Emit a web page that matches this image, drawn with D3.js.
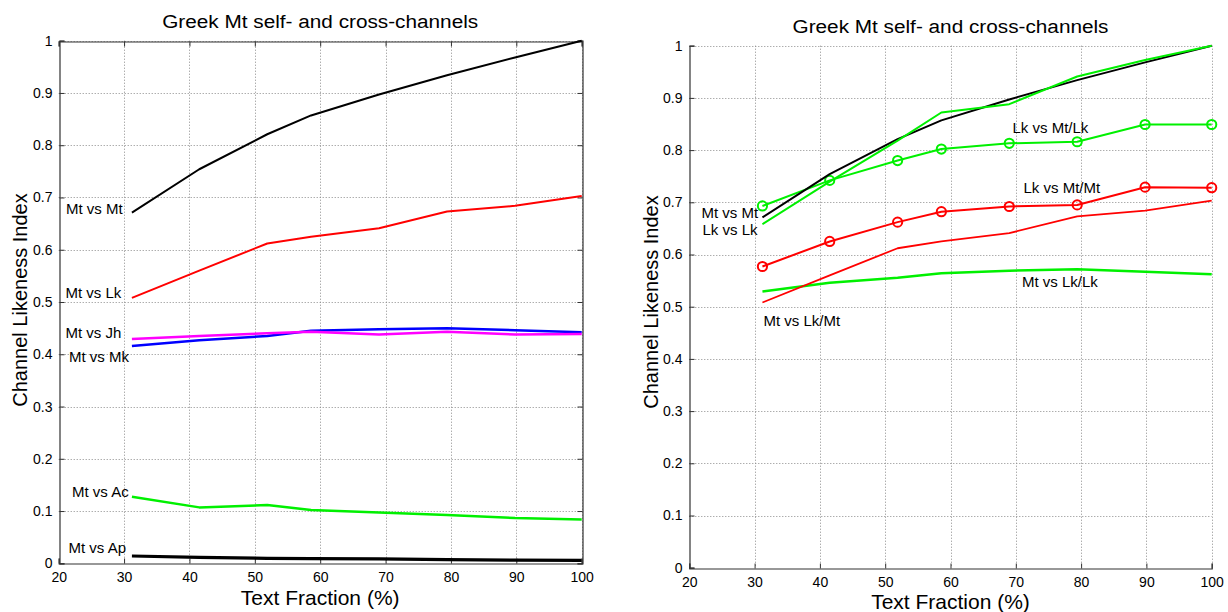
<!DOCTYPE html>
<html>
<head>
<meta charset="utf-8">
<script src="https://cdn.jsdelivr.net/npm/d3@7"></script>
<style>
  html, body { margin: 0; padding: 0; background: #fff; }
  svg { display: block; font-family: Arial, "Liberation Sans", sans-serif; }
</style>
</head>
<body>
<svg id="fig" width="1228" height="612"></svg>
<script>
// Text fraction (%) at which each channel comparison was evaluated
const textFraction = [31.2, 41.5, 51.9, 58.6, 69.0, 79.4, 89.8, 100];

// Left panel: Mt against each gospel / text
const mtVsMt = [0.671, 0.754, 0.821, 0.857, 0.897, 0.934, 0.968, 1.0];
const mtVsLk = [0.508, 0.560, 0.612, 0.625, 0.641, 0.673, 0.684, 0.703];
const mtVsJh = [0.429, 0.435, 0.440, 0.443, 0.438, 0.443, 0.438, 0.439];
const mtVsMk = [0.416, 0.427, 0.435, 0.445, 0.448, 0.450, 0.446, 0.442];
const mtVsAc = [0.1275, 0.107, 0.1115, 0.102, 0.097, 0.0925, 0.0867, 0.084];
const mtVsAp = [0.014, 0.0115, 0.0095, 0.009, 0.0085, 0.007, 0.006, 0.0055];

// Right panel: self-channels and mixed cross-channels of Mt and Lk
const lkVsLk   = [0.658, 0.7395, 0.818, 0.872, 0.888, 0.941, 0.9726, 1.0];
const lkVsMtLk = [0.693, 0.742, 0.780, 0.802, 0.813, 0.816, 0.849, 0.849];
const lkVsMtMt = [0.577, 0.625, 0.662, 0.682, 0.692, 0.695, 0.729, 0.728];
const mtVsLkMt = [0.508, 0.560, 0.612, 0.625, 0.641, 0.673, 0.684, 0.703];
const mtVsLkLk = [0.529, 0.546, 0.5556, 0.564, 0.569, 0.5716, 0.567, 0.562];

const xTicks = [20, 30, 40, 50, 60, 70, 80, 90, 100];
const yTicks = [0, 0.1, 0.2, 0.3, 0.4, 0.5, 0.6, 0.7, 0.8, 0.9, 1];

const titleText = "Greek Mt self- and cross-channels";
const xLabel = "Text Fraction (%)";
const yLabel = "Channel Likeness Index";

const GREEN = "#00f000", RED = "#ff0000", BLUE = "#0000ff", MAGENTA = "#ff00ff", BLACK = "#000000";

const svg = d3.select("#fig");

function panel(opt) {
  const x = d3.scaleLinear().domain([20, 100]).range([opt.left, opt.right]);
  const y = d3.scaleLinear().domain([0, 1]).range([opt.bottom, opt.top]);
  const g = svg.append("g");

  // dotted grid
  const grid = g.append("g").attr("stroke", "#8a8a8a").attr("stroke-width", 1)
    .attr("stroke-dasharray", "1,2").attr("fill", "none");
  grid.selectAll("line.vx").data(xTicks.slice(1)).join("line")
    .attr("x1", d => Math.round(x(d)) + 0.5).attr("x2", d => Math.round(x(d)) + 0.5)
    .attr("y1", y(1)).attr("y2", y(0));
  grid.selectAll("line.hy").data(yTicks.slice(1)).join("line")
    .attr("y1", d => Math.round(y(d)) + 0.5).attr("y2", d => Math.round(y(d)) + 0.5)
    .attr("x1", x(20)).attr("x2", x(100));

  // axes with inward ticks
  const xAxis = d3.axisBottom(x).tickValues(xTicks).tickSize(-5).tickPadding(9).tickFormat(d3.format("d"));
  const yAxis = d3.axisLeft(y).tickValues(yTicks).tickSize(-5).tickPadding(7).tickFormat(d => d === 0 ? "0" : d === 1 ? "1" : d3.format(".1f")(d));
  const gx = g.append("g").attr("transform", `translate(0,${Math.round(y(0)) + 0.5})`).call(xAxis);
  const gy = g.append("g").attr("transform", `translate(${Math.round(x(20)) + 0.5},0)`).call(yAxis);
  [gx, gy].forEach(a => {
    a.select(".domain").attr("stroke", "#333").attr("stroke-width", 1.2);
    a.selectAll(".tick line").attr("stroke", "#333");
    a.selectAll(".tick text").attr("fill", "#000").style("font-size", "14px").style("font-family", "Arial, 'Liberation Sans', sans-serif");
  });
  if (opt.box) {
    const gt = g.append("g").attr("transform", `translate(0,${Math.round(y(1)) + 0.5})`)
      .call(d3.axisTop(x).tickValues(xTicks).tickSize(-5).tickFormat(""));
    const gr = g.append("g").attr("transform", `translate(${Math.round(x(100)) + 0.5},0)`)
      .call(d3.axisRight(y).tickValues(yTicks).tickSize(-5).tickFormat(""));
    [gt, gr].forEach(a => {
      a.select(".domain").attr("stroke", "#333").attr("stroke-width", 1.2);
      a.selectAll(".tick line").attr("stroke", "#333");
    });
  }

  // title and axis labels
  g.append("text").attr("x", (opt.left + opt.right) / 2).attr("y", opt.titleY)
    .attr("text-anchor", "middle").style("font-size", "18px")
    .attr("textLength", 316).attr("lengthAdjust", "spacingAndGlyphs").text(titleText);
  g.append("text").attr("x", (opt.left + opt.right) / 2).attr("y", opt.xLabelY)
    .attr("text-anchor", "middle").style("font-size", "21px").text(xLabel);
  g.append("text").attr("transform", `translate(${opt.yLabelX},${opt.yLabelCy}) rotate(-90)`)
    .attr("text-anchor", "middle").style("font-size", "20px").text(yLabel);

  // series
  const line = d3.line().x((d, i) => x(textFraction[i])).y(d => y(d));
  opt.series.forEach(s => {
    g.append("path").datum(s.values).attr("d", line)
      .attr("fill", "none").attr("stroke", s.color).attr("stroke-width", s.width)
      .attr("stroke-linejoin", "round");
    if (s.markers) {
      g.append("g").selectAll("circle").data(s.values).join("circle")
        .attr("cx", (d, i) => x(textFraction[i])).attr("cy", d => y(d)).attr("r", 4.6)
        .attr("fill", "none").attr("stroke", s.color).attr("stroke-width", 2);
    }
  });

  // in-plot series labels
  opt.labels.forEach(l => {
    g.append("text").attr("x", l.x).attr("y", l.y).attr("text-anchor", l.anchor || "start")
      .style("font-size", "15px").text(l.text);
  });
}

panel({
  left: 58.7, right: 581.7, top: 40.7, bottom: 563.3, box: true,
  titleY: 27.5, xLabelY: 605, yLabelX: 27, yLabelCy: 300,
  series: [
    { values: mtVsMt, color: BLACK, width: 2 },
    { values: mtVsLk, color: RED, width: 2 },
    { values: mtVsMk, color: BLUE, width: 2.5 },
    { values: mtVsJh, color: MAGENTA, width: 2.5 },
    { values: mtVsAc, color: GREEN, width: 2.5 },
    { values: mtVsAp, color: BLACK, width: 3.2 }
  ],
  labels: [
    { text: "Mt vs Mt", x: 66, y: 213.5 },
    { text: "Mt vs Lk", x: 65.5, y: 298 },
    { text: "Mt vs Jh", x: 65.5, y: 337.5 },
    { text: "Mt vs Mk", x: 69, y: 362 },
    { text: "Mt vs Ac", x: 72, y: 496.5 },
    { text: "Mt vs Ap", x: 68.5, y: 552.5 }
  ]
});

panel({
  left: 689.3, right: 1211.7, top: 45.7, bottom: 567.7, box: false,
  titleY: 33.3, xLabelY: 609, yLabelX: 658, yLabelCy: 302,
  series: [
    { values: mtVsLkLk, color: GREEN, width: 2.5 },
    { values: mtVsLkMt, color: RED, width: 1.8 },
    { values: lkVsMtMt, color: RED, width: 2, markers: true },
    { values: lkVsMtLk, color: GREEN, width: 2, markers: true },
    { values: mtVsMt, color: BLACK, width: 2 },
    { values: lkVsLk, color: GREEN, width: 2 }
  ],
  labels: [
    { text: "Mt vs Mt", x: 701.5, y: 217.5 },
    { text: "Lk vs Lk", x: 702.5, y: 234.8 },
    { text: "Lk vs Mt/Lk", x: 1012.5, y: 133.3 },
    { text: "Lk vs Mt/Mt", x: 1023.5, y: 192.7 },
    { text: "Mt vs Lk/Lk", x: 1022, y: 286.7 },
    { text: "Mt vs Lk/Mt", x: 763.5, y: 325.5 }
  ]
});
</script>
</body>
</html>
